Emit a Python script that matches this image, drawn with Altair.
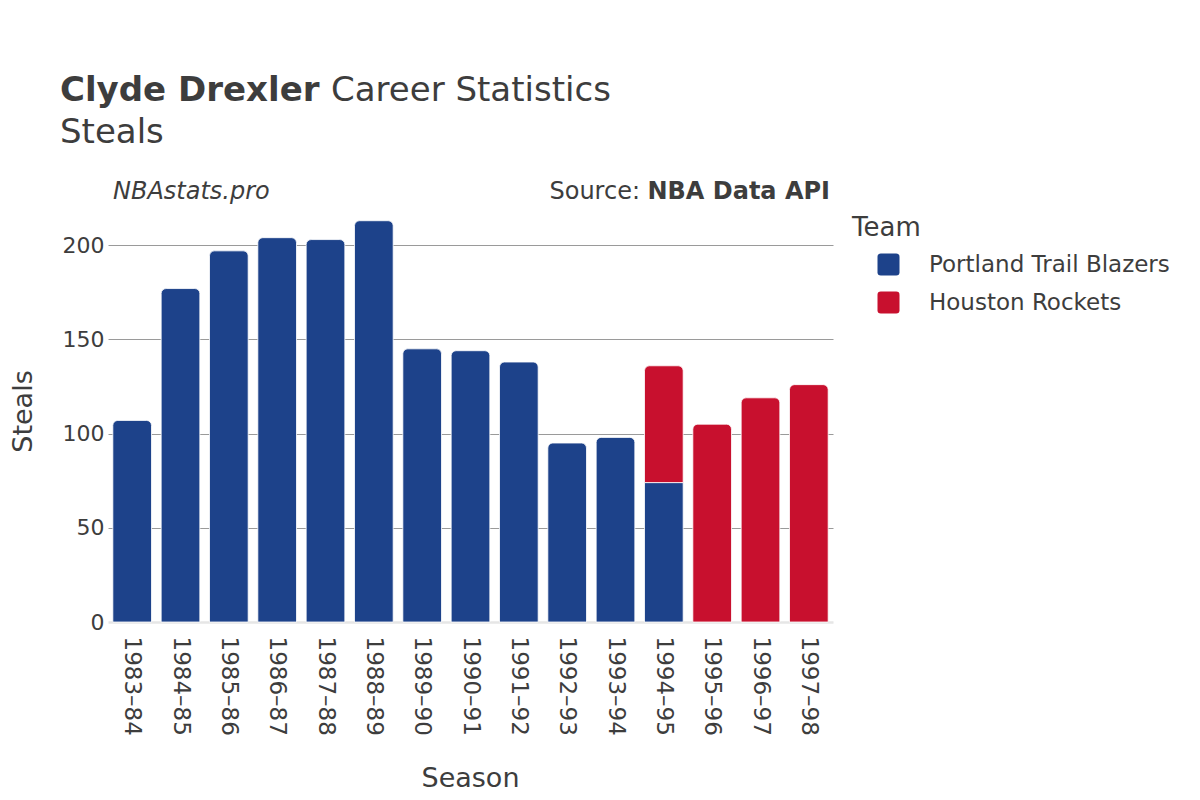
import altair as alt
import pandas as pd

seasons = ["1983–84", "1984–85", "1985–86", "1986–87", "1987–88", "1988–89",
           "1989–90", "1990–91", "1991–92", "1992–93", "1993–94", "1994–95",
           "1995–96", "1996–97", "1997–98"]
teams = ["Portland Trail Blazers", "Houston Rockets"]
team_colors = ["#1D428A", "#C8102E"]

portland_seasons = ["1983–84", "1984–85", "1985–86", "1986–87", "1987–88", "1988–89",
                    "1989–90", "1990–91", "1991–92", "1992–93", "1993–94", "1994–95"]
portland_steals = [107, 177, 197, 204, 203, 213, 145, 144, 138, 95, 98, 74]
houston_seasons = ["1994–95", "1995–96", "1996–97", "1997–98"]
houston_steals = [62, 105, 119, 126]

title_bold = "Clyde Drexler"
title_rest = "Career Statistics"
subtitle = "Steals"
credit = "NBAstats.pro"
source_prefix = "Source:"
source_bold = "NBA Data API"

# build stacked table
per_team = {
    teams[0]: dict(zip(portland_seasons, portland_steals)),
    teams[1]: dict(zip(houston_seasons, houston_steals)),
}
rows = []
for s in seasons:
    base = 0
    segs = []
    for t in teams:
        v = per_team[t].get(s)
        if v:
            segs.append({"season": s, "team": t, "steals": v, "y0": base, "y1": base + v})
            base += v
    for i, seg in enumerate(segs):
        seg["top"] = i == len(segs) - 1
        rows.append(seg)
df = pd.DataFrame(rows)

FONT = "DejaVu Sans"
TXT = "#3d3d3d"

x_enc = alt.X(
    "season:N", sort=seasons, title="Season",
    scale=alt.Scale(domain=seasons, paddingInner=0.2, paddingOuter=0.1),
    axis=alt.Axis(labelAngle=90, labelFontSize=23, labelPadding=14, ticks=False,
                  domainColor="#e6e6e6", domainWidth=2.5, grid=False,
                  labelColor=TXT, titleColor=TXT,
                  titleFontSize=27, titleFontWeight="normal",
                  titleX=362, titleY=156, titleBaseline="middle", titleAlign="center"),
)
y_enc = alt.Y(
    "y1:Q", title="Steals",
    scale=alt.Scale(domain=[0, 224], nice=False, zero=True),
    axis=alt.Axis(values=[0, 50, 100, 150, 200], ticks=False, domain=False,
                  labelFontSize=22, labelPadding=4, labelColor=TXT, titleColor=TXT,
                  gridColor={"condition": {"test": "datum.value === 0", "value": "transparent"},
                             "value": "#9a9a9a"},
                  gridWidth=1,
                  titleFontSize=27, titleFontWeight="normal",
                  titleX=-85, titleY=211, titleAngle=-90,
                  titleBaseline="middle", titleAlign="center"),
)
color_enc = alt.Color(
    "team:N", title="Team",
    scale=alt.Scale(domain=teams, range=team_colors),
    legend=alt.Legend(orient="none", legendX=744, legendY=15, padding=0,
                      titleFontSize=26, titleFontWeight="normal", titleColor=TXT,
                      labelFontSize=23, labelColor=TXT, titlePadding=12, labelLimit=0,
                      symbolType="M-0.7,-1H0.7Q1,-1 1,-0.7V0.7Q1,1 0.7,1H-0.7Q-1,1 -1,0.7V-0.7Q-1,-1 -0.7,-1Z",
                      symbolSize=484, symbolStrokeWidth=0, symbolOpacity=1,
                      symbolOffset=25, labelOffset=29, rowPadding=14),
)

base = alt.Chart(df).encode(x=x_enc, y=y_enc, y2="y0:Q", color=color_enc)
bars_top = base.transform_filter("datum.top").mark_bar(
    cornerRadiusTopLeft=5, cornerRadiusTopRight=5, stroke="white", strokeWidth=0.8)
bars_low = base.transform_filter("!datum.top").mark_bar(stroke="white", strokeWidth=0.8)


def label(txt, xpx, ypx, size, weight="normal", style="normal", align="left"):
    return alt.Chart(pd.DataFrame({"t": [txt]})).mark_text(
        font=FONT, fontSize=size, fontWeight=weight, fontStyle=style,
        align=align, baseline="alphabetic", color=TXT,
    ).encode(text="t:N", x=alt.value(xpx), y=alt.value(ypx))


texts = [
    label(title_bold, -48, -99, 34, weight="bold"),
    label(title_rest, 223, -99, 34),
    label(subtitle, -48, -57, 34),
    label(credit, 5, -1, 24, style="italic"),
    label(source_bold, 722, -1, 24, weight="bold", align="right"),
    label(source_prefix, 532, -1, 24, align="right"),
]

chart = alt.layer(bars_low, bars_top, *texts).properties(
    width=725, height=422,
    autosize=alt.AutoSizeParams(type="none"),
    padding={"left": 100, "top": 192, "right": 350, "bottom": 170},
    view=alt.ViewBackground(strokeOpacity=0, strokeWidth=0),
).configure_view(strokeOpacity=0, strokeWidth=0).configure(
    font=FONT, background="white", style={"cell": {"stroke": "transparent", "strokeWidth": 0}})

chart.save("out.html", embed_options={"renderer": "svg", "actions": False})
